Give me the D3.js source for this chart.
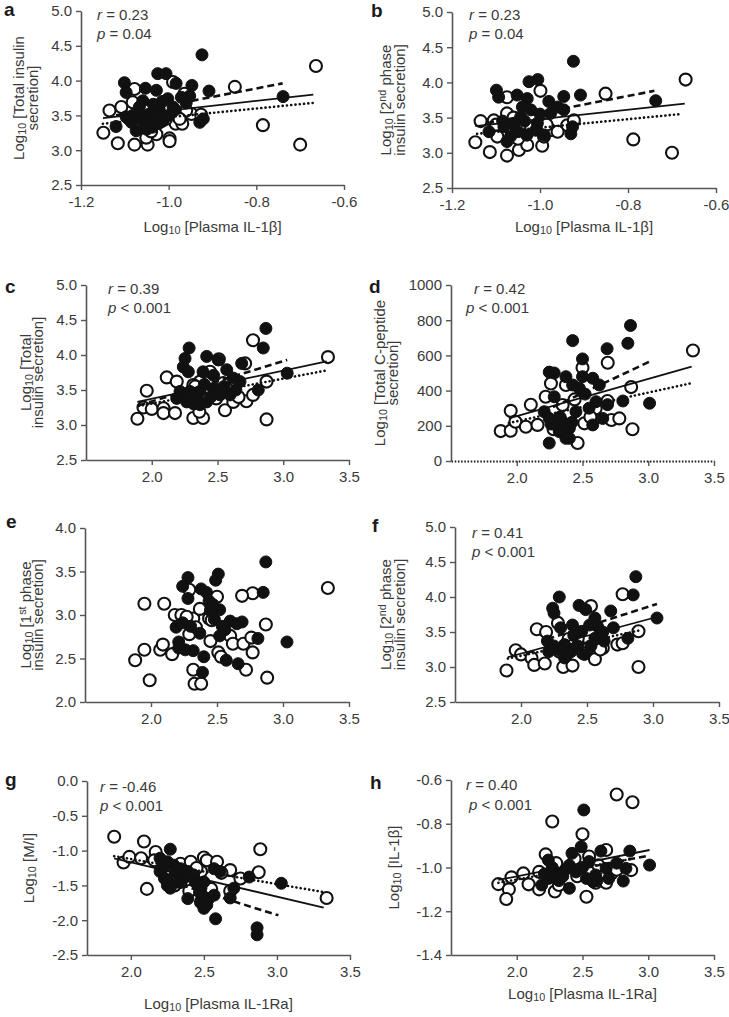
<!DOCTYPE html>
<html><head><meta charset="utf-8">
<script src="https://cdn.jsdelivr.net/npm/d3@7/dist/d3.min.js"></script>
<style>body{margin:0;background:#fff}svg{display:block}</style>
</head><body>
<svg id="chart" width="729" height="1017"></svg>
<script>
// ---------------- DATA ----------------
const ticksIL1b = [-1.2, -1.0, -0.8, -0.6];
const ticksIL1Ra = [2.0, 2.5, 3.0, 3.5];
const ticksInsulin = [2.5, 3.0, 3.5, 4.0, 4.5, 5.0];
const ticksCpep = [0, 200, 400, 600, 800, 1000];
const ticks1st = [2.0, 2.5, 3.0, 3.5, 4.0];
const ticksMI = [-2.5, -2.0, -1.5, -1.0, -0.5, 0.0];
const ticksIL1bY = [-1.4, -1.2, -1.0, -0.8, -0.6];

const aFilled = [[-0.924,4.37],[-1.025,4.10],[-1.006,4.10],[-1.101,3.97],[-1.097,3.83],[-0.983,3.96],[-0.947,3.93],[-1.053,3.89],[-1.028,3.86],[-0.908,3.85],[-0.739,3.77],[-0.952,3.78],[-1.002,3.74],[-0.971,3.76],[-1.059,3.71],[-1.035,3.66],[-1.12,3.34],[-1.082,3.50],[-1.074,3.28],[-1.059,3.42],[-1.044,3.52],[-1.021,3.57],[-0.99,3.62],[-0.929,3.40],[-0.921,3.45],[-1.097,3.48],[-1.037,3.33],[-1.013,3.42],[-1.067,3.62],[-1.05,3.30],[-1.085,3.40],[-1.04,3.45],[-1.00,3.50],[-0.96,3.68],[-1.015,3.70],[-1.07,3.55],[-1.03,3.38],[-0.985,3.58]];
const aOpen = [[-0.664,4.21],[-0.849,3.91],[-0.99,3.98],[-1.078,3.88],[-0.964,3.81],[-1.135,3.57],[-1.108,3.62],[-1.082,3.69],[-1.149,3.25],[-1.116,3.10],[-1.078,3.08],[-1.048,3.08],[-1.051,3.18],[-1.028,3.23],[-0.998,3.17],[-0.998,3.13],[-0.984,3.38],[-0.969,3.38],[-0.948,3.52],[-0.926,3.51],[-0.785,3.36],[-0.70,3.08],[-1.006,3.45],[-1.028,3.47],[-1.067,3.38],[-0.96,3.57],[-1.021,3.40],[-1.09,3.45],[-1.04,3.27],[-0.975,3.45]];
const aSolid = [[-1.15,3.46],[-0.67,3.80]];
const aDashed = [[-1.12,3.50],[-0.74,3.96]];
const aDotted = [[-1.15,3.38],[-0.67,3.68]];

const bFilled = [[-0.924,4.30],[-1.025,4.01],[-1.005,4.04],[-1.099,3.89],[-1.094,3.79],[-0.908,3.82],[-0.946,3.80],[-0.737,3.74],[-1.052,3.82],[-1.029,3.77],[-0.98,3.73],[-1.116,3.30],[-1.082,3.37],[-1.067,3.23],[-1.044,3.51],[-1.021,3.61],[-1.006,3.42],[-0.976,3.56],[-0.93,3.27],[-0.926,3.37],[-0.946,3.61],[-1.06,3.40],[-1.03,3.25],[-1.075,3.16],[-1.04,3.65],[-0.99,3.25],[-1.01,3.32],[-1.05,3.30],[-0.96,3.65],[-1.085,3.45],[-1.00,3.55],[-1.035,3.45]];
const bOpen = [[-0.669,4.04],[-0.851,3.84],[-0.999,3.88],[-1.075,3.79],[-1.135,3.45],[-1.105,3.46],[-1.147,3.15],[-1.114,3.01],[-1.075,2.96],[-1.048,3.04],[-1.029,3.11],[-0.995,3.10],[-0.991,3.23],[-0.976,3.32],[-0.938,3.39],[-0.923,3.46],[-0.788,3.19],[-0.70,3.00],[-1.097,3.23],[-1.075,3.56],[-1.02,3.35],[-0.96,3.30],[-1.05,3.20],[-1.1,3.40],[-0.985,3.40],[-1.06,3.50]];
const bSolid = [[-1.147,3.38],[-0.671,3.70]];
const bDashed = [[-1.12,3.42],[-0.74,3.88]];
const bDotted = [[-1.143,3.27],[-0.68,3.55]];

const cFilled = [[2.868,4.38],[2.848,4.10],[2.284,4.10],[2.253,3.95],[2.418,3.98],[2.506,3.93],[2.24,3.83],[2.278,3.76],[2.39,3.76],[2.47,3.71],[2.57,3.79],[2.684,3.88],[2.62,3.67],[3.03,3.74],[2.81,3.50],[2.215,3.48],[2.19,3.38],[2.266,3.33],[2.34,3.38],[2.418,3.33],[2.367,3.29],[2.468,3.52],[2.52,3.43],[2.671,3.62],[2.595,3.43],[2.29,3.48],[2.367,3.48],[2.25,3.40],[2.32,3.30],[2.45,3.40],[2.55,3.55],[2.64,3.50],[2.40,3.58],[2.30,3.42]];
const cOpen = [[3.34,3.97],[2.77,4.21],[2.71,3.88],[2.51,3.94],[2.114,3.68],[2.19,3.62],[1.962,3.49],[1.891,3.09],[1.937,3.25],[2.0,3.23],[2.089,3.24],[2.089,3.17],[2.177,3.17],[2.316,3.10],[2.39,3.10],[2.362,3.19],[2.557,3.21],[2.873,3.08],[2.873,3.62],[2.72,3.34],[2.77,3.43],[2.62,3.33],[2.49,3.38],[2.443,3.76],[2.367,3.62],[2.316,3.57],[2.544,3.60],[2.58,3.50],[2.66,3.40],[2.33,3.55]];
const cSolid = [[1.89,3.33],[3.33,3.91]];
const cDashed = [[1.9,3.28],[3.03,3.93]];
const cDotted = [[1.9,3.27],[3.33,3.78]];

const dFilled = [[2.865,770],[2.845,669],[2.425,684],[2.687,638],[2.50,580],[3.01,328],[2.807,341],[2.247,505],[2.285,500],[2.374,479],[2.425,432],[2.50,479],[2.578,470],[2.628,432],[2.476,413],[2.285,365],[2.209,280],[2.247,242],[2.298,205],[2.349,223],[2.40,186],[2.40,129],[2.247,102],[2.603,337],[2.654,242],[2.578,205],[2.45,280],[2.374,129],[2.323,167],[2.26,210],[2.33,250],[2.52,380],[2.55,300],[2.69,320],[2.42,220]];
const dOpen = [[3.34,628],[2.692,558],[2.50,530],[2.87,420],[2.69,341],[2.88,180],[2.72,233],[2.78,242],[1.954,285],[1.878,170],[1.954,172],[1.99,223],[2.069,195],[2.107,320],[2.158,205],[2.22,365],[2.26,440],[2.323,242],[2.349,318],[2.463,102],[2.514,214],[2.578,261],[2.60,299],[2.374,432],[2.28,180],[2.56,250],[2.44,350]];
const dSolid = [[1.94,242],[3.33,536]];
const dDashed = [[2.2,280],[3.02,568]];
const dDotted = [[1.94,216],[3.32,441]];

const eFilled = [[2.87,3.61],[2.85,3.26],[3.03,2.69],[2.28,3.43],[2.24,3.33],[2.28,3.19],[2.51,3.47],[2.49,3.40],[2.38,3.30],[2.42,3.26],[2.44,3.16],[2.47,3.12],[2.52,3.06],[2.19,2.86],[2.24,2.91],[2.21,2.69],[2.21,2.62],[2.26,2.60],[2.32,2.59],[2.37,2.79],[2.40,2.52],[2.39,2.34],[2.57,2.48],[2.66,2.44],[2.52,2.76],[2.60,2.93],[2.69,2.92],[2.81,2.73],[2.54,2.87],[2.48,2.95],[2.56,2.83],[2.65,2.90],[2.30,2.87],[2.45,3.05]];
const eOpen = [[3.34,3.31],[2.77,3.25],[2.69,3.22],[2.50,3.21],[2.29,3.29],[1.95,3.13],[2.10,3.13],[2.18,3.00],[2.23,3.00],[2.32,2.96],[2.37,3.07],[2.44,2.96],[2.87,2.89],[1.95,2.60],[1.88,2.48],[2.07,2.60],[2.09,2.66],[2.16,2.55],[1.99,2.25],[2.32,2.37],[2.33,2.21],[2.38,2.21],[2.45,2.70],[2.51,2.57],[2.53,2.52],[2.60,2.76],[2.62,2.67],[2.70,2.67],[2.72,2.37],[2.77,2.57],[2.76,2.74],[2.88,2.28],[2.29,2.78],[2.34,2.86],[2.46,2.94],[2.27,2.98]];

const fFilled = [[2.87,4.29],[2.85,4.03],[2.29,4.00],[2.24,3.84],[2.25,3.77],[2.44,3.88],[2.49,3.82],[2.68,3.80],[3.03,3.70],[2.56,3.70],[2.30,3.56],[2.39,3.60],[2.46,3.51],[2.58,3.58],[2.70,3.56],[2.20,3.37],[2.21,3.22],[2.28,3.25],[2.33,3.32],[2.38,3.22],[2.43,3.30],[2.56,3.41],[2.63,3.37],[2.81,3.41],[2.33,3.13],[2.48,3.18],[2.25,3.30],[2.52,3.60],[2.62,3.50],[2.40,3.45],[2.35,3.18],[2.53,3.30]];
const fOpen = [[2.77,4.04],[2.89,3.51],[2.89,3.00],[2.28,3.63],[2.12,3.54],[2.19,3.50],[1.96,3.24],[2.00,3.18],[1.89,2.95],[2.08,3.13],[2.10,3.03],[2.18,3.05],[2.32,3.00],[2.39,3.02],[2.56,3.11],[2.62,3.27],[2.73,3.32],[2.77,3.34],[2.51,3.27],[2.53,3.87],[2.29,3.22],[2.43,3.41],[2.47,3.20],[2.60,3.25],[2.36,3.40]];
const fSolid = [[1.90,3.14],[3.0,3.70]];
const fDashed = [[2.2,3.40],[3.03,3.90]];
const fDotted = [[1.9,3.12],[2.89,3.52]];

const gFilled = [[2.864,-2.11],[2.864,-2.21],[2.58,-1.98],[2.27,-0.98],[3.03,-1.47],[2.81,-1.38],[2.68,-1.68],[2.705,-1.54],[2.39,-1.69],[2.48,-1.74],[2.50,-1.83],[2.52,-1.78],[2.48,-1.54],[2.50,-1.45],[2.20,-1.30],[2.23,-1.40],[2.25,-1.50],[2.27,-1.54],[2.295,-1.21],[2.34,-1.26],[2.39,-1.30],[2.43,-1.35],[2.25,-1.16],[2.20,-1.11],[2.57,-1.26],[2.61,-1.30],[2.36,-1.40],[2.57,-1.64],[2.30,-1.35],[2.44,-1.45],[2.22,-1.25],[2.32,-1.45],[2.47,-1.60],[2.53,-1.70]];
const gOpen = [[1.886,-0.80],[2.09,-0.87],[2.886,-0.98],[2.875,-1.31],[3.34,-1.68],[1.95,-1.17],[1.99,-1.09],[2.07,-1.11],[2.11,-1.55],[2.17,-1.02],[2.16,-1.14],[2.34,-1.19],[2.41,-1.16],[2.50,-1.10],[2.52,-1.14],[2.59,-1.16],[2.68,-1.28],[2.75,-1.40],[2.68,-1.58],[2.48,-1.74],[2.30,-1.50],[2.34,-1.45],[2.48,-1.30],[2.62,-1.32],[2.55,-1.55],[2.40,-1.58],[2.26,-1.20],[2.45,-1.25]];
const gSolid = [[1.886,-1.11],[3.32,-1.82]];
const gDashed = [[2.2,-1.40],[3.01,-1.93]];
const gDotted = [[1.886,-1.08],[3.33,-1.60]];

const hFilled = [[2.51,-0.737],[3.01,-0.989],[2.49,-0.905],[2.42,-0.935],[2.86,-0.925],[2.64,-0.925],[2.81,-1.062],[2.24,-0.966],[2.29,-1.02],[2.19,-1.08],[2.24,-1.05],[2.35,-1.04],[2.40,-1.095],[2.45,-1.02],[2.55,-0.973],[2.58,-1.065],[2.60,-1.034],[2.68,-1.004],[2.76,-0.98],[2.83,-1.004],[2.40,-0.99],[2.32,-1.06],[2.61,-1.06],[2.27,-1.00],[2.50,-1.00],[2.37,-1.01],[2.53,-1.05],[2.70,-1.05],[2.21,-1.03]];
const hOpen = [[2.76,-0.666],[2.88,-0.702],[2.27,-0.79],[2.50,-0.848],[2.22,-0.94],[2.68,-0.92],[2.87,-1.012],[1.86,-1.076],[1.94,-1.10],[1.92,-1.144],[1.96,-1.045],[2.05,-1.027],[2.09,-1.077],[2.17,-1.02],[2.17,-1.10],[2.29,-1.11],[2.32,-1.08],[2.46,-1.04],[2.53,-1.134],[2.60,-1.07],[2.68,-1.07],[2.72,-1.027],[2.76,-1.01],[2.44,-0.96],[2.55,-0.95],[2.30,-0.98],[2.62,-0.99]];
const hSolid = [[1.86,-1.057],[3.01,-0.92]];
const hDashed = [[2.19,-1.04],[3.01,-0.945]];
const hDotted = [[1.86,-1.07],[2.88,-0.96]];

// ---------------- LAYOUT ----------------
const FONT = "'Liberation Sans', Arial, Helvetica, sans-serif";
const TXT = "#3a3a3a";
const FS = 15;
const f1 = d => d.toFixed(1);
const f0 = d => d.toFixed(0);
const L10 = [{t:"Log"},{t:"10",sub:true}];

const panels = [
 {id:"a", box:{l:81,r:344,t:11,b:185}, xd:[-1.2,-0.6], yd:[2.5,5.0], xt:ticksIL1b, yt:ticksInsulin, xf:f1, yf:f1,
  filled:aFilled, open:aOpen, solid:aSolid, dashed:aDashed, dotted:aDotted,
  letter:[4,16], stats:[["r","0.23"],["p","= 0.04"]], statPos:[[97,20],[97,39]],
  ytitle:[[...L10,{t:" [Total insulin"}],[{t:"secretion]"}]], ytx:[24,38],
  xtitle:[...L10,{t:" [Plasma IL-1β]"}], xty:232},
 {id:"b", box:{l:452,r:716,t:12,b:188}, xd:[-1.2,-0.6], yd:[2.5,5.0], xt:ticksIL1b, yt:ticksInsulin, xf:f1, yf:f1,
  filled:bFilled, open:bOpen, solid:bSolid, dashed:bDashed, dotted:bDotted,
  letter:[371,17], stats:[["r","0.23"],["p","= 0.04"]], statPos:[[469,20],[469,39]],
  ytitle:[[...L10,{t:" [2"},{t:"nd",sup:true},{t:" phase"}],[{t:"insulin secretion]"}]], ytx:[391,405],
  xtitle:[...L10,{t:" [Plasma IL-1β]"}], xty:232},
 {id:"c", box:{l:86,r:349,t:285,b:460}, xd:[1.5,3.5], yd:[2.5,5.0], xt:ticksIL1Ra, yt:ticksInsulin, xf:f1, yf:f1,
  filled:cFilled, open:cOpen, solid:cSolid, dashed:cDashed, dotted:cDotted,
  letter:[5,293], stats:[["r","0.39"],["p","< 0.001"]], statPos:[[108,294],[108,313]],
  ytitle:[[...L10,{t:" [Total"}],[{t:"insulin secretion]"}]], ytx:[31,43]},
 {id:"d", box:{l:451,r:714,t:285,b:461}, xd:[1.5,3.5], yd:[0,1000], xt:ticksIL1Ra, yt:ticksCpep, xf:f1, yf:f0, dottedAxis:true,
  filled:dFilled, open:dOpen, solid:dSolid, dashed:dDashed, dotted:dDotted,
  letter:[369,293], stats:[["r","0.42"],["p","< 0.001"]], statPos:[[474,294],[466,313]],
  ytitle:[[...L10,{t:" [Total C-peptide"}],[{t:"secretion]"}]], ytx:[385,398]},
 {id:"e", box:{l:85,r:349,t:528,b:702}, xd:[1.5,3.5], yd:[2.0,4.0], xt:ticksIL1Ra, yt:ticks1st, xf:f1, yf:f1,
  filled:eFilled, open:eOpen,
  letter:[6,528], stats:null,
  ytitle:[[...L10,{t:" [1"},{t:"st",sup:true},{t:" phase"}],[{t:"insulin secretion]"}]], ytx:[31,43]},
 {id:"f", box:{l:455,r:719,t:527,b:702}, xd:[1.5,3.5], yd:[2.5,5.0], xt:ticksIL1Ra, yt:ticksInsulin, xf:f1, yf:f1,
  filled:fFilled, open:fOpen, solid:fSolid, dashed:fDashed, dotted:fDotted,
  letter:[372,532], stats:[["r","0.41"],["p","< 0.001"]], statPos:[[472,538],[472,557]],
  ytitle:[[...L10,{t:" [2"},{t:"nd",sup:true},{t:" phase"}],[{t:"insulin secretion]"}]], ytx:[391,405]},
 {id:"g", box:{l:87,r:350,t:781,b:955}, xd:[1.7,3.5], yd:[-2.5,0.0], xt:ticksIL1Ra, yt:ticksMI, xf:f1, yf:f1,
  filled:gFilled, open:gOpen, solid:gSolid, dashed:gDashed, dotted:gDotted,
  letter:[5,786], stats:[["r","-0.46"],["p","< 0.001"]], statPos:[[100,792],[100,811]],
  ytitle:[[...L10,{t:" [M/I]"}]], ytx:[34],
  xtitle:[...L10,{t:" [Plasma IL-1Ra]"}], xty:1009},
 {id:"h", box:{l:451,r:714,t:780,b:955}, xd:[1.5,3.5], yd:[-1.4,-0.6], xt:ticksIL1Ra, yt:ticksIL1bY, xf:f1, yf:f1,
  filled:hFilled, open:hOpen, solid:hSolid, dashed:hDashed, dotted:hDotted,
  letter:[370,789], stats:[["r","0.40"],["p","< 0.001"]], statPos:[[466,790],[469,810]],
  ytitle:[[...L10,{t:" [IL-1β]"}]], ytx:[399],
  xtitle:[...L10,{t:" [Plasma IL-1Ra]"}], xty:999}
];

const svg = d3.select("#chart");

function richText(sel, parts, size) {
  parts.forEach(p => {
    const ts = sel.append("tspan").text(p.t);
    if (p.sub) ts.attr("font-size", size*0.72).attr("baseline-shift", "-22%");
    if (p.sup) ts.attr("font-size", size*0.72).attr("baseline-shift", "42%");
  });
}

panels.forEach(p => {
  const g = svg.append("g");
  const x = d3.scaleLinear().domain(p.xd).range([p.box.l, p.box.r]);
  const y = d3.scaleLinear().domain(p.yd).range([p.box.b, p.box.t]);

  const ax = g.append("g").attr("transform", `translate(0,${p.box.b})`)
    .call(d3.axisBottom(x).tickValues(p.xt).tickFormat(p.xf).tickSize(5).tickSizeOuter(0));
  const ay = g.append("g").attr("transform", `translate(${p.box.l},0)`)
    .call(d3.axisLeft(y).tickValues(p.yt).tickFormat(p.yf).tickSize(5).tickSizeOuter(0));
  [ax, ay].forEach(a => {
    a.selectAll("path.domain").attr("stroke", "#555").attr("stroke-width", 1.6);
    a.selectAll(".tick line").attr("stroke", "#555").attr("stroke-width", 1.4);
    a.selectAll("text").attr("fill", TXT).attr("font-family", FONT).attr("font-size", FS);
  });
  ax.selectAll("text").attr("y", 22).attr("dy", 0);
  ay.selectAll("text").attr("x", -9);
  if (p.dottedAxis) {
    ax.select("path.domain").attr("stroke", "#222").attr("stroke-width", 2.2).attr("stroke-dasharray", "1.6,1.6");
  }

  g.append("g").selectAll("circle").data(p.open).join("circle")
    .attr("cx", d => x(d[0])).attr("cy", d => y(d[1])).attr("r", 6)
    .attr("fill", "#fff").attr("stroke", "#111").attr("stroke-width", 2.1);
  g.append("g").selectAll("circle").data(p.filled).join("circle")
    .attr("cx", d => x(d[0])).attr("cy", d => y(d[1])).attr("r", 6)
    .attr("fill", "#111").attr("stroke", "#111").attr("stroke-width", 1);

  const line = d3.line().x(d => x(d[0])).y(d => y(d[1]));
  if (p.solid) g.append("path").attr("d", line(p.solid)).attr("fill","none").attr("stroke","#111").attr("stroke-width",1.8);
  if (p.dashed) g.append("path").attr("d", line(p.dashed)).attr("fill","none").attr("stroke","#111").attr("stroke-width",2.6).attr("stroke-dasharray","7,4");
  if (p.dotted) g.append("path").attr("d", line(p.dotted)).attr("fill","none").attr("stroke","#111").attr("stroke-width",2.6).attr("stroke-linecap","round").attr("stroke-dasharray","0.1,4.2");

  g.append("text").attr("x", p.letter[0]).attr("y", p.letter[1]).text(p.id)
    .attr("font-family", FONT).attr("font-weight", "bold").attr("font-size", 19).attr("fill", "#1a1a1a");

  if (p.stats) {
    p.stats.forEach((s, i) => {
      const t = g.append("text").attr("x", p.statPos[i][0]).attr("y", p.statPos[i][1])
        .attr("font-family", FONT).attr("font-size", FS).attr("fill", TXT);
      t.append("tspan").attr("font-style", "italic").text(s[0]);
      t.append("tspan").text(i === 0 ? " = " + s[1] : " " + s[1]);
    });
  }

  const cy = (p.box.t + p.box.b) / 2;
  p.ytitle.forEach((parts, i) => {
    const t = g.append("text").attr("transform", `translate(${p.ytx[i]},${cy}) rotate(-90)`)
      .attr("text-anchor", "middle").attr("font-family", FONT).attr("font-size", FS).attr("fill", TXT);
    richText(t, parts, FS);
  });

  if (p.xtitle) {
    const t = g.append("text").attr("x", (p.box.l + p.box.r) / 2).attr("y", p.xty)
      .attr("text-anchor", "middle").attr("font-family", FONT).attr("font-size", FS).attr("fill", TXT);
    richText(t, p.xtitle, FS);
  }
});
</script>
</body></html>
